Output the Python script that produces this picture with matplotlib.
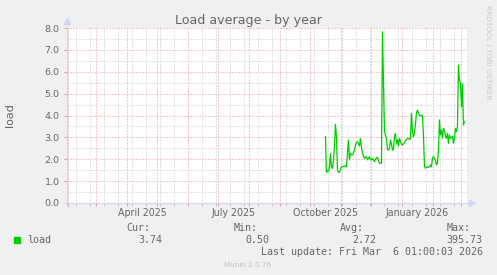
import matplotlib
matplotlib.use("Agg")
import matplotlib.pyplot as plt
import matplotlib.ticker as ticker
from matplotlib.patches import Rectangle
import matplotlib.dates as mdates
import pandas as pd

# daily load average, first sample on 2025-10-16
first_day = "2025-10-16"
load = [
    3.03, 1.40, 1.50, 1.45, 1.65, 2.25, 1.65, 1.58, 1.95, 2.60,
    3.60, 3.05, 1.50, 1.40, 1.40, 1.55, 1.65, 1.68, 1.66, 1.66,
    1.70, 1.66, 2.25, 2.88, 1.97, 2.27, 2.20, 2.20, 2.30, 2.42,
    2.65, 2.78, 2.80, 2.70, 2.61, 2.95, 2.55, 2.30, 2.15, 2.04,
    2.10, 2.12, 1.97, 2.05, 2.12, 2.00, 1.97, 2.04, 1.95, 1.89,
    2.00, 2.05, 2.10, 1.95, 1.82, 1.82, 1.82, 7.83, 5.50, 3.30,
    3.10, 2.96, 2.45, 2.42, 2.50, 2.88, 2.70, 2.42, 2.45, 3.05,
    3.18, 2.70, 2.90, 2.60,
    2.96, 2.80, 2.70, 2.65, 2.70, 2.76, 2.85, 2.88, 2.95, 2.96,
    2.91, 2.93, 4.10, 3.26, 3.03, 3.20, 3.60, 4.10, 4.25, 4.10,
    4.00, 3.98, 4.02, 3.98, 3.11, 1.66, 1.59, 1.62, 1.66, 1.63,
    1.68, 1.74, 1.66, 2.04, 2.12, 2.05, 1.97, 1.74, 1.81, 2.42,
    3.80, 3.11, 3.34, 2.96, 3.41, 3.34, 3.05, 2.96, 3.18, 2.73,
    3.11, 2.96, 2.98, 3.06, 2.73, 2.96, 3.41, 3.26, 3.49, 6.31,
    5.60, 5.50, 4.40, 5.45, 3.57, 3.72,
]

last_update = pd.Timestamp("2026-03-06 01:00:03")
span_days = 400
minor_grid_start = "2025-02-09"   # gray lines every 14 days
quarter_labels = ["April 2025", "July 2025", "October 2025", "January 2026"]
quarter_label_dates = ["2025-04-16", "2025-07-16", "2025-10-16", "2026-01-16"]
stat_names = ["Cur:", "Min:", "Avg:", "Max:"]
stat_values = ["3.74", "0.50", "2.72", "395.73"]

W, H = 497, 275
BACK = "#F0F0F0"
FONT = "#666666"
AXIS = "#CFD6F8"
GREEN = "#00CC00"
MGRID = "#e79595"
GRID = "#c6c6c6"

fig = plt.figure(figsize=(W / 100, H / 100), dpi=100, facecolor=BACK)
ax = fig.add_axes([66.5 / W, 72 / H, 400 / W, 175 / H])
ax.set_facecolor("white")

dates = pd.date_range(first_day, periods=len(load), freq="D")
ax.plot(dates, load, color=GREEN, lw=0.9, zorder=3)

start = last_update - pd.Timedelta(days=span_days)
ax.set_xlim(start, last_update)
ax.set_ylim(0, 8)

# y grid
ax.yaxis.set_major_locator(ticker.MultipleLocator(1))
ax.yaxis.set_minor_locator(ticker.MultipleLocator(0.5))
ax.yaxis.set_major_formatter(ticker.FormatStrFormatter("%.1f"))

# x grid: month starts (red) and two-week lines (gray)
ax.xaxis.set_major_locator(mdates.MonthLocator())
minor_days = pd.date_range(minor_grid_start, last_update, freq="14D")
ax.xaxis.set_minor_locator(ticker.FixedLocator(mdates.date2num(minor_days)))
ax.tick_params(axis="x", which="both", labelbottom=False)

dots = (0, (1, 2))
ax.grid(which="minor", color=GRID, ls=dots, lw=0.72)
ax.grid(which="major", color=MGRID, ls=dots, lw=0.72)
ax.set_axisbelow(True)

ax.tick_params(which="major", color=MGRID, length=2.5, width=0.72, direction="out")
ax.tick_params(which="minor", color=GRID, length=2.5, width=0.72, direction="out")
ax.tick_params(axis="y", which="major", labelsize=6.8, labelcolor=FONT, pad=2.5)
ax.tick_params(axis="y", which="minor", length=0)

for side in ["top", "right", "left", "bottom"]:
    ax.spines[side].set_visible(False)

# axes with arrows
ax.plot([-0.006, 1.012], [0, 0], color=AXIS, lw=0.8, transform=ax.transAxes, clip_on=False, zorder=4)
ax.plot([0, 0], [-0.015, 1.03], color=AXIS, lw=0.8, transform=ax.transAxes, clip_on=False, zorder=4)
ax.plot([1.0135], [0], marker=">", ms=4, color=AXIS, transform=ax.transAxes, clip_on=False, zorder=4)
ax.plot([0], [1.04], marker="^", ms=4, color=AXIS, transform=ax.transAxes, clip_on=False, zorder=4)

for lab, d in zip(quarter_labels, quarter_label_dates):
    ax.text(pd.Timestamp(d), -13 / 175, lab, transform=ax.get_xaxis_transform(),
            ha="center", va="baseline", fontsize=6.85, color=FONT)


def fx(x):
    return x / W


def fy(y):
    return 1 - y / H


fig.text(fx(248.3), fy(24), "Load average - by year", ha="center", va="baseline",
         fontsize=9.1, color=FONT)
fig.text(fx(10), fy(115.5), "load", rotation=90, ha="center", va="center",
         fontsize=8, color=FONT)
fig.text(fx(488), fy(52.5), "RRDTOOL / TOBI OETIKER", rotation=-90, ha="center",
         va="center", fontsize=5.3, color="#c8c8c8")

mono = dict(family="DejaVu Sans Mono", fontsize=7.2, color=FONT, va="baseline")
fig.patches.append(Rectangle((fx(14), fy(243)), 6 / W, 6 / H, transform=fig.transFigure,
                             color=GREEN))
fig.text(fx(26.7), fy(242.7), "load", **mono)
name_x = [126.7, 233.3, 340, 446.7]
value_x = [138, 245.7, 352.3, 446.7]
for nm, v, nx, vx in zip(stat_names, stat_values, name_x, value_x):
    fig.text(fx(nx), fy(231), nm, **mono)
    fig.text(fx(vx), fy(242.7), v, **mono)
fig.text(fx(482.7), fy(255), "Last update: Fri Mar  6 01:00:03 2026", ha="right", **mono)
fig.text(fx(248), fy(266.7), "Munin 2.0.76", ha="center", va="baseline", fontsize=5.2,
         color="#c0c0c0")

fig.savefig("out.png", dpi=100, facecolor=BACK)
